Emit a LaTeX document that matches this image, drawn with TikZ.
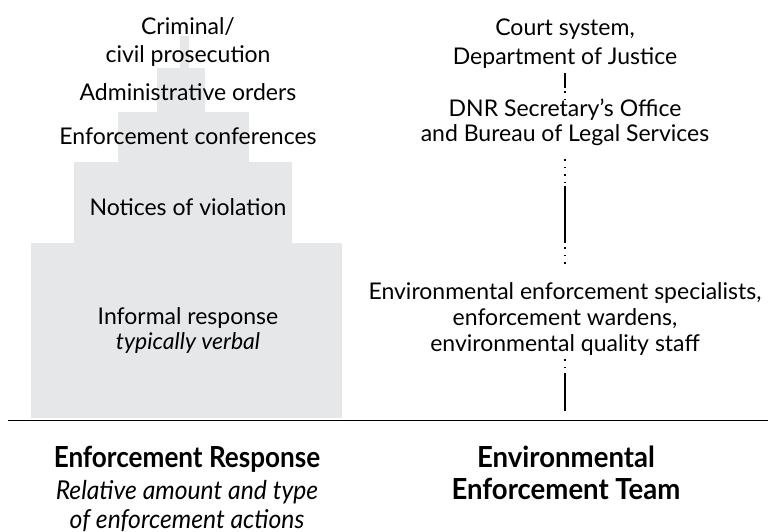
\documentclass[tikz,border=0pt]{standalone}
\usepackage{fontspec}
\setmainfont{Lato}
\newfontfamily\condfont[FakeStretch=0.9]{Lato}
\newfontfamily\semicondfont[FakeStretch=0.95]{Lato}
\begin{document}
\begin{tikzpicture}[x=1pt,y=-1pt,
  tier/.style={fill=tiergray,draw=none},
  lbl/.style={font=\fontsize{23}{28}\selectfont,align=center,anchor=base,inner sep=0pt,text=black},
  head/.style={font=\condfont\bfseries\fontsize{29}{32}\selectfont,align=center,anchor=base,inner sep=0pt},
  sub/.style={font=\semicondfont\itshape\fontsize{26}{29}\selectfont,align=center,anchor=base,inner sep=0pt},
  solidlink/.style={line width=1.4pt},
  dotlink/.style={line width=1.4pt,dash pattern=on 1.4pt off 6.1pt},
]
\definecolor{tiergray}{HTML}{E6E7E8}
\useasboundingbox (0,0) rectangle (768,532);

% stepped pyramid of enforcement responses
\fill[tier] (180,36) rectangle (189,69);
\fill[tier] (157,68) rectangle (205,113);
\fill[tier] (118,112) rectangle (249,163);
\fill[tier] (74,162) rectangle (292,244);
\fill[tier] (31,243) rectangle (342,418);

% response levels (base anchor sits on the last line)
\node[lbl] (crim) at (188,63) {Criminal/\\civil prosecution};
\node[lbl] (admin) at (188,101) {Administrative orders};
\node[lbl] (conf) at (188,144) {Enforcement conferences};
\node[lbl] (nov) at (188,215) {Notices of violation};
\node[lbl,font=\fontsize{23}{25}\selectfont] (inf) at (188,349) {Informal response\\\textit{typically verbal}};

% responsible parties
\node[lbl,font=\fontsize{23}{29}\selectfont] (court) at (565,65) {Court system,\\Department of Justice};
\node[lbl,font=\fontsize{23}{25}\selectfont] (dnr) at (565,142) {DNR Secretary's Office\\and Bureau of Legal Services};
\node[lbl,font=\fontsize{23}{26}\selectfont] (env) at (565,351) {Environmental enforcement specialists,\\enforcement wardens,\\environmental quality staff};

% base line
\coordinate (baseL) at (8,420.5);
\coordinate (baseR) at (768,420.5);
\draw[line width=1.2pt] (baseL) -- (baseR);

% links between the parties
\coordinate (a1) at (565,73);
\coordinate (a2) at (565,88);
\coordinate (a3) at (565,100);
\draw[solidlink] (a1) -- (a2);
\draw[dotlink] (565,91.3) -- (a3);

\coordinate (b1) at (565,159.3);
\coordinate (b2) at (565,186);
\coordinate (b3) at (565,243);
\coordinate (b4) at (565,266);
\draw[dotlink] (b1) -- (b2);
\draw[solidlink] (b2) -- (b3);
\draw[dotlink] (565,247.3) -- (b4);

\coordinate (c1) at (565,359.3);
\coordinate (c2) at (565,373);
\coordinate (c3) at (565,411);
\draw[dotlink] (c1) -- (c2);
\draw[solidlink] (c2) -- (c3);

% column headings
\node[head] (resp) at (187,467) {Enforcement Response};
\node[sub] (respsub) at (187,528) {Relative amount and type\\of enforcement actions};
\node[head,font=\semicondfont\bfseries\fontsize{29}{32}\selectfont] (team) at (566,499) {Environmental\\Enforcement Team};
\end{tikzpicture}
\end{document}
